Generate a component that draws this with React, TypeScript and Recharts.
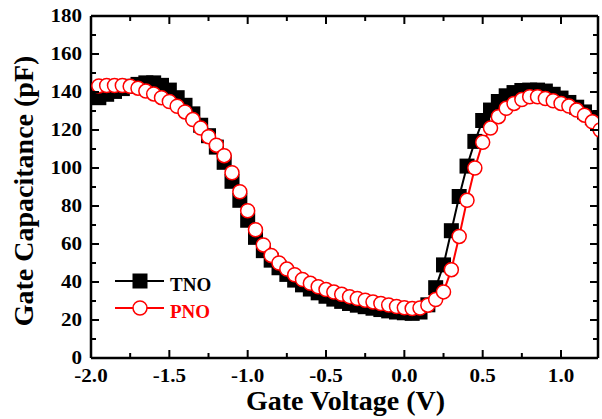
import { LineChart, Line, XAxis, YAxis } from "recharts";

const voltage = [
  -1.95, -1.9, -1.85, -1.8, -1.75, -1.7, -1.65, -1.6, -1.55, -1.5,
  -1.45, -1.4, -1.35, -1.3, -1.25, -1.2, -1.15, -1.1, -1.05, -1.0,
  -0.95, -0.9, -0.85, -0.8, -0.75, -0.7, -0.65, -0.6, -0.55, -0.5,
  -0.45, -0.4, -0.35, -0.3, -0.25, -0.2, -0.15, -0.1, -0.05, 0.0,
  0.05, 0.1, 0.15, 0.2, 0.25, 0.3, 0.35, 0.4, 0.45, 0.5,
  0.55, 0.6, 0.65, 0.7, 0.75, 0.8, 0.85, 0.9, 0.95, 1.0,
  1.05, 1.1, 1.15, 1.2, 1.25,
];

// TNO, black squares (pF)
const tnoCap = [
  137, 138.8, 140.3, 141.8, 143, 144, 144.8, 144.8, 143.5, 141,
  137, 133, 128.5, 122.5, 117, 111, 103, 93, 83, 72.5,
  63.5, 56.5, 51.5, 47.5, 44, 41, 38.5, 36.3, 34.3, 32.5,
  31, 29.8, 28.7, 27.8, 27, 26.2, 25.5, 24.8, 24.2, 23.8,
  23.5, 24.2, 28, 37, 49, 67, 85, 101, 114, 125,
  130.5, 135, 138, 139.7, 140.8, 141, 141, 140.5, 138.8, 136.8,
  134.5, 132, 129.5, 126.5, 123,
];

// PNO, open red circles (pF)
const pnoCap = [
  143.2, 143.4, 143.4, 143.4, 143, 142, 140.5, 139, 137, 135,
  132.5, 129.5, 125.5, 121, 116.5, 112, 106.5, 97.5, 87.5, 77.5,
  67.5, 59.5, 54, 50, 46.8, 43.8, 41.3, 39.3, 37.5, 36,
  34.7, 33.5, 32.3, 31.3, 30.4, 29.5, 28.7, 27.9, 27.1, 26.4,
  26, 26.3, 27.8, 30.8, 34.8, 46.5, 64, 83, 100, 113.5,
  121, 127, 131.4, 134, 136, 137.5, 137.5, 136.6, 135.4, 134,
  132.6, 130.5, 127.8, 124.3, 120,
];

const xTicks = [-2, -1.75, -1.5, -1.25, -1, -0.75, -0.5, -0.25, 0, 0.25, 0.5, 0.75, 1];
const yTicks = [0, 10, 20, 30, 40, 50, 60, 70, 80, 90, 100, 110, 120, 130, 140, 150, 160, 170, 180];

const rows = voltage.map((v, i) => ({ v, tno: tnoCap[i], pno: pnoCap[i] }));

const FONT = '"Liberation Serif", "Times New Roman", serif';
const axisLine = { stroke: "#000", strokeWidth: 2.5 };
const MARGIN = { top: 15, right: 3, bottom: 0, left: 0 };
const PLOT_TOP = MARGIN.top + 1; // top axis has height 1

const isMajorX = (v: number) => Math.abs(v * 2 - Math.round(v * 2)) < 1e-6;
const isMajorY = (v: number) => v % 20 === 0;
// no tick marks on the frame corners
const xEnd = (v: number) => v === -2;
const yEnd = (v: number) => v === 0 || v === 180;

// draws the bottom tick, the matching tick on the top frame and the label
function BottomTick({ x, y, payload }: any) {
  const major = isMajorX(payload.value);
  const len = major ? 8 : 5;
  return (
    <g>
      {!xEnd(payload.value) && (
        <g>
          <line x1={x} x2={x} y1={y} y2={y - len} stroke="#000" strokeWidth={2} />
          <line x1={x} x2={x} y1={PLOT_TOP} y2={PLOT_TOP + len} stroke="#000" strokeWidth={2} />
        </g>
      )}
      {major && (
        <text
          transform={`translate(${x} ${y + 24}) scale(1.17 1)`}
          textAnchor="middle"
          fontFamily={FONT}
          fontWeight="bold"
          fontSize={18}
          fill="#000"
        >
          {payload.value.toFixed(1)}
        </text>
      )}
    </g>
  );
}

function LeftTick({ x, y, payload }: any) {
  const major = isMajorY(payload.value);
  return (
    <g>
      {!yEnd(payload.value) && (
        <line x1={x} x2={x + (major ? 8 : 5)} y1={y} y2={y} stroke="#000" strokeWidth={2} />
      )}
      {major && (
        <text
          transform={`translate(${x - 9} ${y}) scale(1.17 1)`}
          dy="0.36em"
          textAnchor="end"
          fontFamily={FONT}
          fontWeight="bold"
          fontSize={18}
          fill="#000"
        >
          {payload.value}
        </text>
      )}
    </g>
  );
}

function RightTick({ x, y, payload }: any) {
  if (yEnd(payload.value)) return <g />;
  const major = isMajorY(payload.value);
  return <line x1={x} x2={x - (major ? 8 : 5)} y1={y} y2={y} stroke="#000" strokeWidth={2} />;
}

function XTitle({ viewBox }: any) {
  const { x, y, width } = viewBox;
  return (
    <text x={x + width / 2 + 1} y={y + 52} textAnchor="middle" fontFamily={FONT} fontWeight="bold" fontSize={28} fill="#000">
      Gate Voltage (V)
    </text>
  );
}

function YTitle({ viewBox }: any) {
  const { y, height } = viewBox;
  return (
    <text
      transform={`translate(33 ${y + height / 2 + 4}) rotate(-90)`}
      textAnchor="middle"
      fontFamily={FONT}
      fontWeight="bold"
      fontSize={28}
      fill="#000"
    >
      Gate Capacitance (pF)
    </text>
  );
}

const squareDot = (p: any) => (
  <rect key={`t${p.index}`} x={p.cx - 7.5} y={p.cy - 7.5} width={15} height={15} fill="#000" />
);

const circleDot = (p: any) => (
  <circle key={`p${p.index}`} cx={p.cx} cy={p.cy} r={7} fill="#fff" stroke="#ff0000" strokeWidth={1.5} />
);

function LegendBox() {
  return (
    <svg width={602} height={419} style={{ position: "absolute", left: 0, top: 0, pointerEvents: "none" }}>
      <line x1={115} x2={164} y1={281} y2={281} stroke="#000" strokeWidth={2} />
      <rect x={132.5} y={273.5} width={15} height={15} fill="#000" />
      <text x={170} y={291} fontFamily={FONT} fontWeight="bold" fontSize={19} fill="#000">
        TNO
      </text>
      <line x1={115} x2={164} y1={308} y2={308} stroke="#ff0000" strokeWidth={2} />
      <circle cx={140} cy={308} r={7} fill="#fff" stroke="#ff0000" strokeWidth={1.5} />
      <text x={170} y={318} fontFamily={FONT} fontWeight="bold" fontSize={19} fill="#ff0000">
        PNO
      </text>
    </svg>
  );
}

export default function App() {
  return (
    <div style={{ position: "absolute", left: 0, top: 0, width: 602, height: 419, background: "#fff" }}>
      <LineChart width={602} height={419} data={rows} margin={MARGIN}>
        <XAxis
          dataKey="v"
          type="number"
          domain={[-2, 1.236]}
          allowDataOverflow
          ticks={xTicks}
          interval={0}
          height={61}
          axisLine={axisLine}
          tickLine={false}
          tickSize={0}
          tickMargin={0}
          tick={(p: any) => <BottomTick {...p} />}
          label={<XTitle />}
        />
        <XAxis
          xAxisId="top"
          orientation="top"
          dataKey="v"
          type="number"
          domain={[-2, 1.236]}
          allowDataOverflow
          height={1}
          axisLine={axisLine}
          tickLine={false}
          tick={false}
        />
        <YAxis
          type="number"
          domain={[0, 180]}
          allowDataOverflow
          ticks={yTicks}
          interval={0}
          width={91}
          axisLine={axisLine}
          tickLine={false}
          tickSize={0}
          tickMargin={0}
          tick={(p: any) => <LeftTick {...p} />}
          label={<YTitle />}
        />
        <YAxis
          yAxisId="right"
          orientation="right"
          type="number"
          domain={[0, 180]}
          allowDataOverflow
          ticks={yTicks}
          interval={0}
          width={1}
          axisLine={axisLine}
          tickLine={false}
          tickSize={0}
          tickMargin={0}
          tick={(p: any) => <RightTick {...p} />}
        />
        <Line
          dataKey="tno"
          type="linear"
          stroke="#000"
          strokeWidth={2}
          dot={squareDot}
          activeDot={false}
          isAnimationActive={false}
        />
        <Line
          dataKey="pno"
          type="linear"
          stroke="#ff0000"
          strokeWidth={2}
          dot={circleDot}
          activeDot={false}
          isAnimationActive={false}
        />
      </LineChart>
      <LegendBox />
    </div>
  );
}
